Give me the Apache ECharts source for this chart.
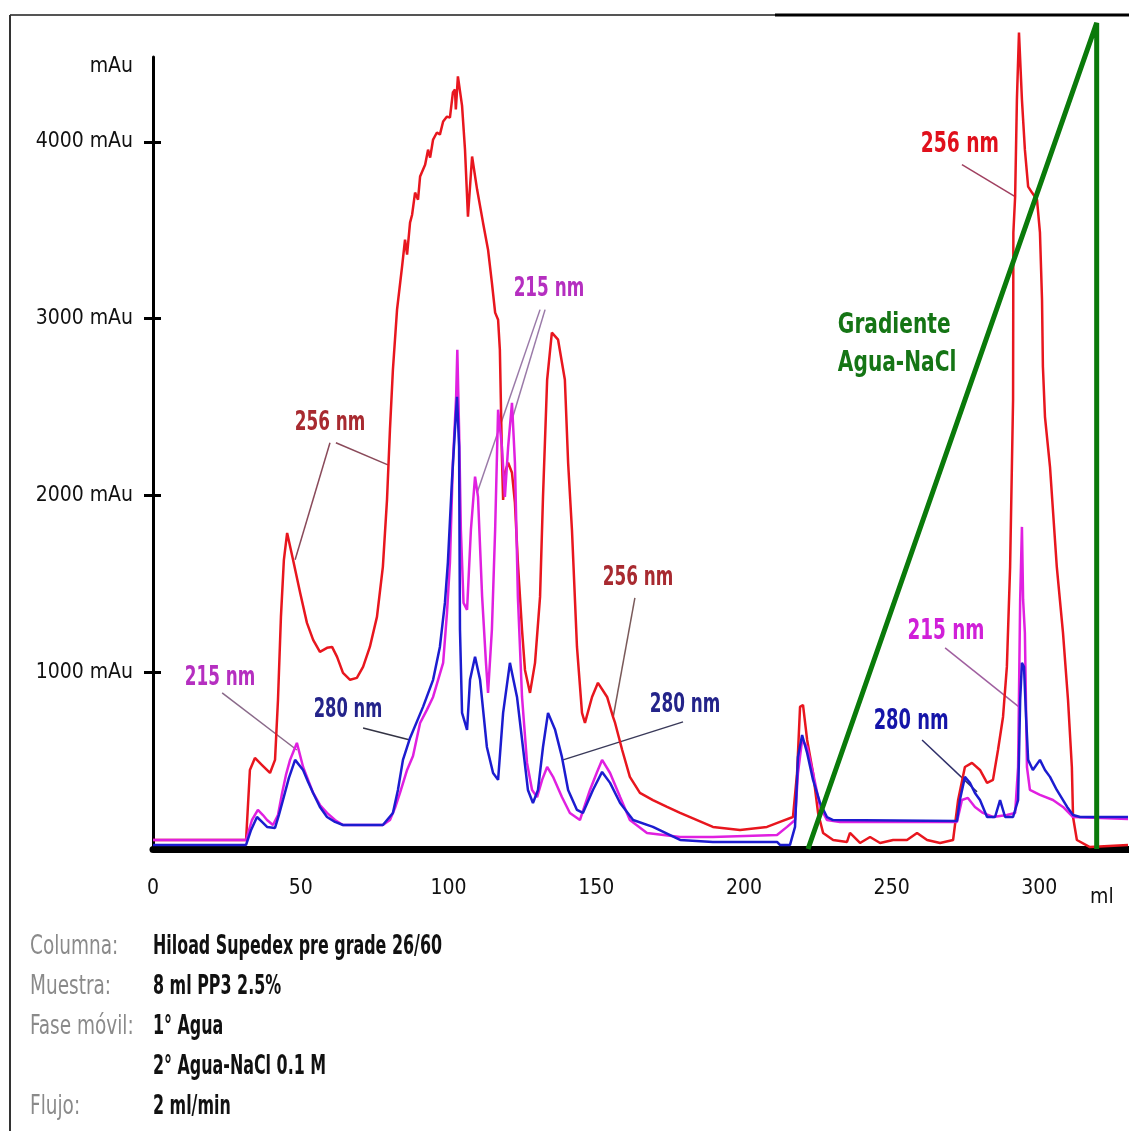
<!DOCTYPE html>
<html>
<head>
<meta charset="utf-8">
<script src="https://cdn.jsdelivr.net/npm/echarts@6/dist/echarts.min.js"></script>
<style>
html, body { margin: 0; padding: 0; background: #fff; }
#chart { width: 1129px; height: 1131px; }
</style>
</head>
<body>
<div id="chart"></div>
<script>
const FONT = '"Liberation Sans Narrow", "DejaVu Sans Condensed", "Liberation Sans", sans-serif';

// axis ticks
const xTicks = [0, 50, 100, 150, 200, 250, 300];
const yTicks = [1000, 2000, 3000, 4000];

// [ml, mAu]
const abs256 = [
	[0,51],[31.5,51],[32.8,447],[34.5,515],[36.9,475],[39.6,430],[41.3,504],[42.3,843],[43.3,1313],[44.3,1636],
	[45.4,1788],[47.4,1636],[49.8,1449],[52.1,1279],[54.2,1183],[56.5,1115],[58.9,1138],[60.6,1143],[62.3,1087],
	[64.3,996],[66.7,957],[69.0,968],[71.1,1030],[73.4,1143],[75.8,1313],[77.8,1596],[79.2,1975],[80.2,2372],
	[81.2,2711],[82.6,3051],[84.3,3294],[85.3,3447],[86.0,3362],[87.0,3543],[87.7,3588],[88.7,3713],[89.7,3673],
	[90.4,3804],[91.0,3798],[92.1,3871],[93.1,3956],[93.8,3911],[94.8,4013],[96.1,4053],[97.1,4041],[98.2,4115],
	[99.5,4143],[100.5,4137],[101.5,4279],[102.2,4296],[102.5,4183],[103.2,4370],[104.6,4205],[105.6,3956],
	[106.6,3577],[108.0,3917],[109.7,3730],[111.7,3543],[113.4,3390],[114.7,3204],[115.8,3034],[116.8,2994],
	[117.4,2824],[118.1,2219],[118.5,1975],[119.1,2128],[120.2,2185],[121.5,2128],[122.5,1958],[123.5,1619],
	[124.9,1240],[125.9,1013],[127.6,883],[129.3,1053],[131.0,1426],[132.0,1992],[133.4,2654],[135.0,2921],
	[137.1,2881],[139.4,2654],[140.5,2185],[141.8,1806],[143.5,1143],[145.2,770],[146.2,713],[148.6,860],
	[150.6,940],[153.7,860],[155.7,747],[156.4,713],[158.8,560],[161.4,408],[164.8,317],[169.2,277],[174.0,238],
	[178.4,204],[189.5,125],[198.7,108],[207.8,125],[212.2,153],[216.6,181],[218.0,430],[219.0,804],[220.0,815],
	[221.4,617],[223.4,430],[225.1,204],[226.8,91],[230.2,51],[234.9,40],[235.9,91],[239.3,34],[242.7,68],
	[246.1,34],[250.5,51],[255.2,51],[258.6,91],[262.0,51],[266.4,34],[270.8,51],[272.5,277],[274.8,464],
	[277.2,487],[279.9,447],[282.3,374],[284.3,391],[286.0,560],[287.7,747],[289.0,1030],[290.1,1596],
	[290.7,2162],[291.1,2541],[291.2,3486],[291.8,3690],[292.4,4239],[293.1,4618],[294.1,4239],[295.1,3956],
	[296.2,3747],[297.5,3713],[299.2,3673],[300.2,3486],[300.9,3107],[301.2,2728],[301.9,2445],[303.6,2162],
	[305.9,1596],[308.0,1223],[309.7,843],[311.0,464],[311.4,181],[312.7,51],[317.1,11],[330,23]
];

const abs215 = [
	[0,51],[31.5,51],[33.5,164],[35.5,221],[37.2,192],[38.6,164],[40.6,136],[42.3,192],[43.7,317],[45.0,419],
	[46.4,504],[48.7,600],[50.8,464],[52.5,391],[54.2,317],[56.5,249],[58.9,204],[61.6,164],[64.3,136],[77.8,136],
	[80.2,164],[81.9,232],[83.6,317],[86.0,447],[88.0,526],[90.4,713],[92.7,787],[94.8,860],[98.2,1053],
	[99.5,1336],[100.5,1619],[101.5,2185],[102.6,2558],[103.0,2824],[103.6,2371],[104.2,1806],[105.1,1392],
	[106.3,1353],[107.6,1806],[109.0,2106],[110.0,1992],[111.4,1426],[112.7,1053],[113.4,883],[114.7,1240],
	[115.8,1806],[116.8,2485],[118.1,2275],[119.1,1992],[120.2,2275],[121.5,2524],[122.5,2185],[123.5,1426],
	[124.9,860],[126.6,487],[128.3,334],[130.0,294],[131.7,391],[133.4,464],[135.4,408],[138.4,294],[141.1,204],
	[144.5,164],[147.9,334],[150.3,436],[152.0,504],[154.7,430],[158.1,294],[161.4,164],[167.2,91],[178.4,68],
	[189.5,68],[211.2,79],[214.6,125],[217.3,164],[218.3,430],[219.7,617],[221.4,577],[223.4,430],[225.8,238],
	[228.1,164],[232.5,153],[272.1,153],[273.8,277],[275.8,289],[278.2,238],[280.9,204],[284.3,181],[289.0,192],
	[291.8,204],[292.8,464],[293.5,1409],[294.1,1822],[294.5,1409],[295.1,1222],[295.8,464],[296.8,334],
	[300.2,306],[304.6,277],[308.0,238],[311.4,181],[330,170]
];

const abs280 = [
	[0,23],[31.5,23],[33.2,108],[35.2,181],[36.9,153],[38.6,125],[41.3,119],[42.6,192],[44.0,277],[46.0,402],
	[48.1,504],[50.8,447],[52.5,379],[54.2,317],[56.5,238],[58.9,181],[61.6,153],[64.3,136],[77.8,136],[81.2,204],
	[82.9,334],[84.6,504],[87.0,628],[91.4,804],[94.8,957],[97.1,1143],[98.8,1392],[99.8,1619],[101.2,2088],
	[102.2,2371],[102.9,2558],[103.6,2275],[103.9,1240],[104.6,770],[106.3,674],[107.3,957],[109.0,1087],
	[110.7,957],[113.0,577],[115.1,430],[116.8,391],[118.5,770],[120.8,1053],[123.2,860],[125.2,577],[126.9,334],
	[128.6,260],[130.3,334],[132.0,577],[133.7,770],[136.1,674],[138.4,521],[140.5,334],[143.5,221],[145.5,204],
	[148.9,334],[152.0,436],[154.7,374],[158.1,260],[162.5,164],[169.2,125],[178.4,51],[189.5,40],[211.2,40],
	[212.2,23],[215.6,23],[217.3,125],[218.3,521],[219.7,645],[221.4,543],[223.4,391],[225.8,260],[228.1,181],
	[230.2,164],[272.1,158],[273.1,277],[274.8,408],[276.5,374],[278.2,317],[279.9,277],[282.3,181],[285.0,181],
	[286.7,277],[288.4,181],[291.1,181],[292.8,277],[293.5,843],[294.1,1053],[294.8,1030],[295.5,747],[296.2,504],
	[297.8,447],[300.2,504],[301.9,447],[303.6,408],[305.9,334],[309.4,238],[311.4,192],[313.8,181],[330,181]
];

// NaCl gradient ramp
const gradient = [[221.7, 0], [319.4, 4673], [319.4, 0]];

// annotation texts and their anchor [ml, mAu]
const tags = [
	{ text: '256 nm', at: [59.9, 2411], color: '#a82a30', size: 26, squeeze: 0.72 },
	{ text: '215 nm', at: [134.0, 3164], color: '#b52fc0', size: 26, squeeze: 0.72 },
	{ text: '256 nm', at: [164.2, 1534], color: '#a82a30', size: 26, squeeze: 0.72 },
	{ text: '280 nm', at: [180.1, 815], color: '#24248a', size: 26, squeeze: 0.72 },
	{ text: '215 nm', at: [22.7, 968], color: '#b52fc0', size: 26, squeeze: 0.72 },
	{ text: '280 nm', at: [66.0, 787], color: '#24248a', size: 26, squeeze: 0.70 },
	{ text: '256 nm', at: [273.1, 3985], color: '#e0101c', size: 28, squeeze: 0.74 },
	{ text: '215 nm', at: [268.4, 1228], color: '#d020d8', size: 28, squeeze: 0.73 },
	{ text: '280 nm', at: [256.6, 719], color: '#1414a8', size: 28, squeeze: 0.71 }
];
const gradientTag = { lines: ['Gradiente', 'Agua-NaCl'], at: [231.8, 2853] };

// leader lines: [from, to]
const leaders = [
	{ coords: [[59.9, 2298], [48.1, 1636]], color: '#8a4a5a' },
	{ coords: [[61.9, 2298], [79.5, 2173]], color: '#8a4a5a' },
	{ coords: [[131.0, 3051], [109.7, 2015]], color: '#9a7aa8' },
	{ coords: [[132.7, 3051], [121.5, 2428]], color: '#9a7aa8' },
	{ coords: [[163.1, 1421], [155.7, 741]], color: '#7a5a5a' },
	{ coords: [[179.4, 719], [138.8, 504]], color: '#3a3a5a' },
	{ coords: [[23.4, 883], [48.7, 560]], color: '#8a6a8a' },
	{ coords: [[71.1, 685], [87.0, 617]], color: '#333344' },
	{ coords: [[273.8, 3871], [291.8, 3690]], color: '#a04060' },
	{ coords: [[268.1, 1138], [293.5, 798]], color: '#a060a0' },
	{ coords: [[260.3, 617], [278.9, 323]], color: '#30306a' }
];

const infoLabels = ['Columna:', 'Muestra:', 'Fase móvil:', '', 'Flujo:'];
const infoValues = ['Hiload Supedex pre grade 26/60', '8 ml PP3 2.5%', '1° Agua', '2° Agua-NaCl 0.1 M', '2 ml/min'];

const chart = echarts.init(document.getElementById('chart'));

function trace(name, data, color, width) {
	return {
		name,
		type: 'line',
		data,
		showSymbol: false,
		clip: false,
		silent: true,
		lineStyle: { color, width },
		itemStyle: { color }
	};
}

const option = {
	animation: false,
	backgroundColor: '#fff',
	grid: { left: 153, top: 57, width: 975, height: 792 },
	xAxis: {
		type: 'value',
		min: 0,
		max: 330,
		name: 'ml',
		nameLocation: 'end',
		nameGap: -38,
		nameTextStyle: { fontSize: 21, color: '#111', fontFamily: FONT, verticalAlign: 'top', padding: [38, 0, 0, 0] },
		axisLine: { lineStyle: { color: '#000', width: 7 } },
		axisTick: { show: false },
		splitLine: { show: false },
		axisLabel: { customValues: xTicks, margin: 29, fontSize: 21, color: '#111', fontFamily: FONT }
	},
	yAxis: [
		{
			type: 'value',
			min: 0,
			max: 4480,
			name: 'mAu',
			nameLocation: 'end',
			nameGap: -10,
			nameTextStyle: { fontSize: 21, color: '#111', fontFamily: FONT, align: 'right', verticalAlign: 'middle', padding: [0, 20, 0, 0] },
			axisLine: { show: true, lineStyle: { color: '#000', width: 3 } },
			axisTick: { show: true, customValues: yTicks, length: 9, lineStyle: { color: '#000', width: 3 } },
			splitLine: { show: false },
			axisLabel: { customValues: yTicks, margin: 20, fontSize: 21, color: '#111', fontFamily: FONT, formatter: v => v + ' mAu' }
		},
		{
			type: 'value',
			min: 0,
			max: 4480,
			position: 'left',
			axisLine: { show: false },
			axisTick: { show: true, inside: true, customValues: yTicks, length: 8, lineStyle: { color: '#000', width: 3 } },
			splitLine: { show: false },
			axisLabel: { show: false }
		}
	],
	series: [
		trace('256 nm', abs256, '#e8161e', 2.5),
		trace('215 nm', abs215, '#e020e0', 2.5),
		trace('280 nm', abs280, '#1c1cd0', 2.5),
		trace('Gradiente', gradient, '#0a7a0a', 5),
		{
			type: 'lines',
			coordinateSystem: 'cartesian2d',
			silent: true,
			clip: false,
			data: leaders.map(l => ({ coords: l.coords, lineStyle: { color: l.color, width: 1.5 } })),
			lineStyle: { opacity: 1 }
		}
	]
};

chart.setOption(option);

// frame, annotation texts (squeezed horizontally like the narrow original font) and the info block
const graphics = [
	{ type: 'line', shape: { x1: 10, y1: 15, x2: 775, y2: 15 }, style: { stroke: '#555', lineWidth: 2 } },
	{ type: 'line', shape: { x1: 775, y1: 15, x2: 1129, y2: 15 }, style: { stroke: '#000', lineWidth: 3 } },
	{ type: 'line', shape: { x1: 10, y1: 15, x2: 10, y2: 1131 }, style: { stroke: '#333', lineWidth: 2 } }
];

tags.forEach(t => {
	const [px, py] = chart.convertToPixel({ gridIndex: 0 }, t.at);
	graphics.push({
		type: 'text', x: px, y: py, scaleX: t.squeeze, z: 10,
		style: { text: t.text, fill: t.color, fontSize: t.size, fontWeight: 'bold', fontFamily: FONT, align: 'center', verticalAlign: 'middle' }
	});
});

const [gx, gy] = chart.convertToPixel({ gridIndex: 0 }, gradientTag.at);
gradientTag.lines.forEach((t, i) => {
	graphics.push({
		type: 'text', x: gx, y: gy + (i - 0.5) * 38, scaleX: 0.8, z: 10,
		style: { text: t, fill: '#157515', fontSize: 28, fontWeight: 'bold', fontFamily: FONT, align: 'left', verticalAlign: 'middle' }
	});
});

infoLabels.forEach((t, i) => {
	const y = 947 + i * 40;
	graphics.push({
		type: 'text', x: 30, y, scaleX: 0.79,
		style: { text: t, fill: '#8a8a8a', fontSize: 26, fontFamily: FONT, verticalAlign: 'middle' }
	});
	graphics.push({
		type: 'text', x: 153, y, scaleX: 0.68,
		style: { text: infoValues[i], fill: '#111', fontSize: 26, fontWeight: 'bold', fontFamily: FONT, verticalAlign: 'middle' }
	});
});

chart.setOption({ graphic: graphics });
</script>
</body>
</html>
